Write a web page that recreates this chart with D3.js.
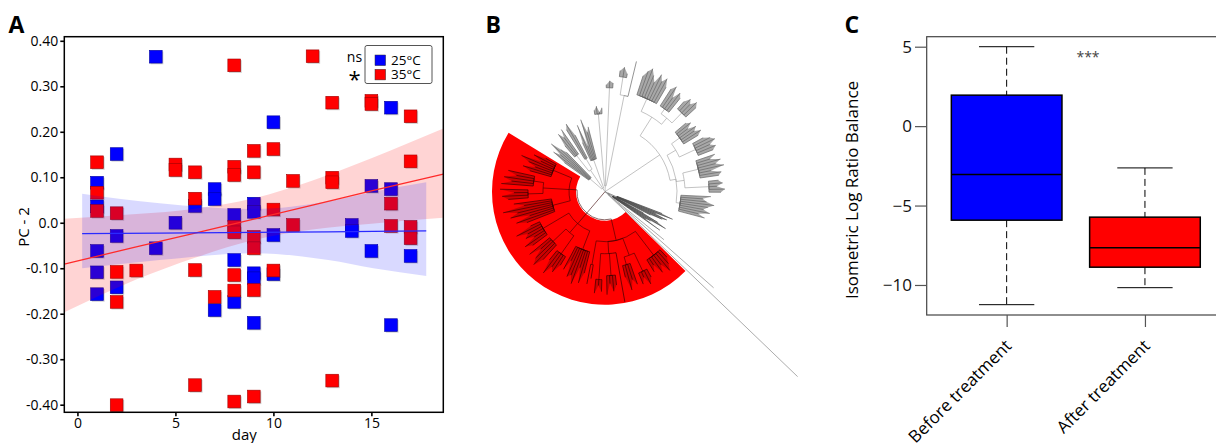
<!DOCTYPE html>
<html lang="en">
<head>
<meta charset="UTF-8">
<title>PC-2 by day, clade tree, balance boxplot</title>
<script src="https://cdn.jsdelivr.net/npm/d3@7"></script>
<style>
    body { margin: 0; background: #fff; }
    text { font-family: 'Open Sans', sans-serif; fill: #000; }
    .panel-label { font-weight: 700; font-size: 23px; }
</style>
</head>
<body>
<svg id="fig" width="1216" height="443"></svg>
<script>
// ---------- panel A data: PC-2 scores per day ----------
const days25 = [1, 1, 1, 1, 1, 2, 2, 2, 4, 4, 5, 6, 7, 7, 7, 8, 8, 8, 9, 9, 9, 9, 9, 10, 10, 10, 14, 14, 15, 15, 16, 16, 16, 17];
const pc25 = [0.088, 0.036, -0.062, -0.109, -0.157, 0.151, -0.029, -0.142, 0.365, -0.056, 0.000, 0.037, 0.074, 0.052, -0.192,
    0.017, -0.082, -0.174, 0.042, 0.024, -0.111, -0.122, -0.220, 0.221, -0.027, -0.113, -0.005, -0.018, 0.081, -0.062,
    0.253, 0.074, -0.225, -0.073];
const days35 = [1, 1, 1, 2, 2, 2, 2, 3, 5, 5, 6, 6, 6, 6, 7, 8, 8, 8, 8, 8, 8, 8, 8, 9, 9, 9, 9, 9, 9, 10, 10, 10,
    11, 11, 12, 13, 13, 13, 13, 15, 15, 16, 16, 17, 17, 17, 17];
const pc35 = [0.133, 0.066, 0.026, 0.021, -0.108, -0.174, -0.401, -0.105, 0.128, 0.116, 0.111, 0.053, -0.104, -0.357, -0.163,
    0.346, 0.123, 0.105, -0.009, -0.021, -0.115, -0.149, -0.393, 0.158, 0.111, -0.031, -0.056, -0.148, -0.382,
    0.162, 0.029, -0.105, 0.092, -0.005, 0.366, 0.264, 0.099, 0.089, -0.347, 0.268, 0.261, 0.042, -0.007,
    0.234, 0.135, -0.009, -0.034];

// linear fits with confidence bands
const fitDays35 = [-0.67, 3, 6, 9, 12, 15, 18.67];
const fit35 = [-0.091, -0.053, -0.023, 0.008, 0.039, 0.070, 0.107];
const lo35 = [-0.197, -0.125, -0.077, -0.038, -0.015, -0.002, 0.011];
const hi35 = [0.009, 0.019, 0.031, 0.054, 0.093, 0.142, 0.207];
const fitDays25 = [0.24, 4.2, 9, 12.8, 15.1, 17.8];
const fit25 = [-0.024, -0.023, -0.021, -0.020, -0.019, -0.018];
const lo25 = [-0.100, -0.082, -0.067, -0.082, -0.100, -0.117];
const hi25 = [0.064, 0.043, 0.030, 0.047, 0.068, 0.089];

const yTicksA = [-0.4, -0.3, -0.2, -0.1, 0, 0.1, 0.2, 0.3, 0.4];
const yTickLabelsA = ["-0.40", "-0.30", "-0.20", "-0.10", "0.0", "0.10", "0.20", "0.30", "0.40"];
const xTicksA = [0, 5, 10, 15];
const groups = ["25°C", "35°C"];
const groupSig = ["ns", "*"];
const groupColors = ["#0000ff", "#ff0000"];

// ---------- panel B data: tree as [branch length, ...children], leaves are lengths ----------
const redClade = [28,
    [22, [30, 10, 16, 22, 12, 19, 8, 14], [18, [20, 9, 15, 6, 12], [8, 22, 16, 26, 12]],
         [12, 50, [22, 10, 16, 8, 19], [26, 12, 6, 14]], [24, 14, 20]],
    [14, [20, 22, 33, 18, 36, 28, 31, 15, 26], [12, [22, 10, 20, 16, 26, 12], [18, 20, 30, 24, 14, 26]],
         [30, 18, 25, 12, 20, 16, 27, 10]],
    [8, [18, 30, 40, 25, 44, 36, 50, 28, 38], [26, [15, 20, 26, 14, 28], [10, 32, 22, 30, 18, 27]],
         [20, 22, 30, 18, 26, 35, 15, 24, 12]]];
const upperLeft = [4, [16, 30, 45, 38, 52, 41, 35], [22, [20, 15, 28, 22, 30], [12, 35, 40, 26]],
    [30, 20, 38, 15, 42, 28, 33]];
const topClade = [6, [72, 4, 8, 2, 6], [98, 3, 7, 5], [92, [18, 6, 10, 4], 36]];
const rightClade = [66,
    [22, [14, 20, 26, 30, 24, 18, 28, 22, 27, 19], [8, [6, 20, 25, 14, 22, 18], [14, 10, 16, 12, 18, 14]]],
    [6, [10, [10, 14, 18, 12, 20, 16, 22, 17], [18, 12, 18, 22, 15, 20, 16]],
        [8, [16, 20, 14, 24, 18, 26, 12, 22, 19], [24, 10, 14, 8, 16, 12]],
        [4, 30, 22, 26, 34, 28, 24, 31, 20, 27]]];
const lowerRight = [3, [10, 48, 60, 42, 55, 50, 38], [6, 35, 52, 62, 45, 40, 58]];
const outliers = [4, 72, 141, 263];
// angular sector (degrees, clockwise from 12 o'clock) given to each top-level clade
const cladeSectors = [[135, 301], [304, 347], [351, 375], [377, 466], [470, 486], [488, 495]];

// ---------- panel C data: boxplot stats ----------
const boxCats = ["Before treatment", "After treatment"];
const whiskLow = [-11.24, -10.17];
const q1 = [-5.92, -8.88];
const medians = [-3.04, -7.65];
const q3 = [1.95, -5.73];
const whiskHigh = [5.0, -2.63];
const boxColors = ["#0000ff", "#ff0000"];
const yTicksC = [5, 0, -5, -10];

const svg = d3.select("#fig");

// ================= panel A =================
const xA = d3.scaleLinear().domain([-0.67, 18.67]).range([64.3, 443.3]);
const yA = d3.scaleLinear().domain([-0.4167, 0.409]).range([412.3, 36.7]);
const gA = svg.append("g");

gA.append("clipPath").attr("id", "clipA").append("rect")
    .attr("x", 64.3).attr("y", 36.7).attr("width", 379).attr("height", 375.6);

const pts25 = days25.map((d, i) => ({day: d, v: pc25[i], g: 0}));
const pts35 = days35.map((d, i) => ({day: d, v: pc35[i], g: 1}));
const allPts = pts25.concat(pts35);
const sq = 12.7;

gA.selectAll("rect.shadow").data(allPts).join("rect").attr("class", "shadow")
    .attr("x", d => xA(d.day) - sq / 2 + 1.2).attr("y", d => yA(d.v) - sq / 2 + 1.2)
    .attr("width", sq).attr("height", sq)
    .style("fill", "#888").style("opacity", 0.4);
gA.selectAll("rect.pt").data(allPts).join("rect").attr("class", "pt")
    .attr("x", d => xA(d.day) - sq / 2).attr("y", d => yA(d.v) - sq / 2)
    .attr("width", sq).attr("height", sq)
    .style("fill", d => groupColors[d.g])
    .style("stroke", d => d.g ? "#a00000" : "#0000a0").style("stroke-width", 0.6);

// bands and fit lines on top of points
const bands = [
    {days: fitDays35, fit: fit35, lo: lo35, hi: hi35, fill: "rgba(255,0,0,0.17)", line: "#ff2a2a"},
    {days: fitDays25, fit: fit25, lo: lo25, hi: hi25, fill: "rgba(0,0,255,0.15)", line: "#2a2aff"}
];
const area = d3.area().curve(d3.curveMonotoneX)
    .x(d => xA(d[0])).y0(d => yA(d[1])).y1(d => yA(d[2]));
const fitLine = d3.line().x(d => xA(d[0])).y(d => yA(d[1]));
const bandG = gA.append("g").attr("clip-path", "url(#clipA)");
bands.forEach(b => {
    bandG.append("path").attr("d", area(b.days.map((d, i) => [d, b.lo[i], b.hi[i]])))
        .style("fill", b.fill);
});
bands.forEach(b => {
    bandG.append("path").attr("d", fitLine(b.days.map((d, i) => [d, b.fit[i]])))
        .style("fill", "none").style("stroke", b.line).style("stroke-width", 1.3);
});

gA.append("rect").attr("x", 64.3).attr("y", 36.7).attr("width", 379).attr("height", 375.6)
    .style("fill", "none").style("stroke", "#000").style("stroke-width", 1.5);

const axA_y = gA.append("g").attr("transform", "translate(64.3,0)")
    .call(d3.axisLeft(yA).tickValues(yTicksA).tickFormat((d, i) => yTickLabelsA[i]).tickSize(4).tickPadding(2));
const axA_x = gA.append("g").attr("transform", "translate(0,412.3)")
    .call(d3.axisBottom(xA).tickValues(xTicksA).tickSize(4).tickPadding(1.5));
[axA_y, axA_x].forEach(ax => {
    ax.select(".domain").remove();
    ax.selectAll(".tick line").style("stroke", "#000").style("stroke-width", 1.6);
    ax.selectAll(".tick text").style("font-size", "14px").style("font-family", "'Open Sans', sans-serif").style("fill", "#000");
});

gA.append("text").attr("transform", "translate(29,227) rotate(-90)")
    .attr("text-anchor", "middle").style("font-size", "15px").text("PC - 2");
gA.append("text").attr("x", 244.3).attr("y", 440)
    .attr("text-anchor", "middle").style("font-size", "15px").text("day");

// legend
const legA = gA.append("g");
legA.append("rect").attr("x", 365).attr("y", 45.5).attr("width", 67).attr("height", 38).attr("rx", 2)
    .style("fill", "#fff").style("stroke", "#555").style("stroke-width", 1);
const legRow = d3.scalePoint().domain(groups).range([60.3, 74.6]);
legA.selectAll("rect.key").data(groups).join("rect").attr("class", "key")
    .attr("x", 375).attr("y", d => legRow(d) - 5.3).attr("width", 10.6).attr("height", 10.6)
    .style("fill", (d, i) => groupColors[i]).style("stroke", "#333").style("stroke-width", 0.5);
legA.selectAll("text.lab").data(groups).join("text").attr("class", "lab")
    .attr("x", 391).attr("y", d => legRow(d) + 4.8).style("font-size", "13.5px").text(d => d);
legA.append("text").attr("x", 354.5).attr("y", legRow(groups[0]) + 1.5).attr("text-anchor", "middle")
    .style("font-size", "14px").text(groupSig[0]);
legA.append("text").attr("x", 354.5).attr("y", legRow(groups[1]) + 12).attr("text-anchor", "middle")
    .style("font-size", "22px").text(groupSig[1]);

svg.append("text").attr("class", "panel-label").attr("x", 8.5).attr("y", 33.3).text("A");

// ================= panel B =================
const cx = 605, cy = 191.7;
const rB = d3.scaleLinear().domain([0, 100]).range([0, 100]);
const clades = [redClade, upperLeft, topClade, rightClade, lowerRight, outliers];
const treeRoot = d3.hierarchy([0, ...clades], d => Array.isArray(d) ? d.slice(1) : null);
treeRoot.eachBefore(d => {
    d.len = Array.isArray(d.data) ? d.data[0] : d.data;
    d.dist = (d.parent ? d.parent.dist : 0) + d.len;
});
const sep = (a, b) => a.parent === b.parent ? 1 : 1.6;
treeRoot.children.forEach((c, i) => {
    const [a0, a1] = cladeSectors[i];
    d3.cluster().size([a1 - a0, 1]).separation(sep)(c);
    c.each(d => d.deg = a0 + d.x);
});
treeRoot.deg = d3.mean(treeRoot.children, d => d.deg);
const ang = d => d.deg * Math.PI / 180;

const redNode = treeRoot.children[0];
redNode.each(d => d.tone = "red");
treeRoot.children[4].each(d => d.tone = "dark");
treeRoot.children[5].each(d => d.tone = "long");

const gB = svg.append("g").attr("transform", `translate(${cx},${cy})`);
const redLeaves = redNode.leaves();
const wedge = d3.arc()
    .innerRadius(rB(redNode.dist) + 1)
    .outerRadius(rB(d3.max(redLeaves, d => d.dist)) + 1)
    .startAngle(d3.min(redLeaves, ang) - 2 * Math.PI / 180)
    .endAngle(d3.max(redLeaves, ang) + 2 * Math.PI / 180);
gB.append("path").attr("d", wedge()).style("fill", "#ff0000");

// filled silhouettes of terminal leaf bundles
const bundles = treeRoot.descendants()
    .filter(d => d.tone !== "long" && d.children && d.children.length >= 3 && d.children.every(c => !c.children));
const fan = d3.lineRadial().angle(d => d[0]).radius(d => d[1]);
gB.selectAll("path.fan").data(bundles).join("path").attr("class", "fan")
    .attr("d", d => {
        const kids = d.children;
        return fan([[ang(kids[0]), rB(d.dist)], ...kids.map(c => [ang(c), rB(c.dist)]),
            [ang(kids[kids.length - 1]), rB(d.dist)]]) + "Z";
    })
    .style("fill", d => d.tone === "red" ? "#5a0000" : d.tone === "dark" ? "#333" : "#7a7a7a")
    .style("opacity", d => d.tone === "red" ? 0.32 : d.tone === "dark" ? 0.5 : 0.65);

function elbow(d) {
    const p = d.parent, pa = ang(p), da = ang(d), pr = rB(p.dist), dr = rB(d.dist);
    const path = d3.path();
    path.moveTo(pr * Math.sin(pa), -pr * Math.cos(pa));
    if (pr > 0) path.arc(0, 0, pr, pa - Math.PI / 2, da - Math.PI / 2, da < pa);
    path.lineTo(dr * Math.sin(da), -dr * Math.cos(da));
    return path.toString();
}
gB.selectAll("path.link").data(treeRoot.descendants().slice(1)).join("path").attr("class", "link")
    .attr("d", elbow)
    .style("fill", "none")
    .style("stroke", d => d.tone === "red" ? "#3a0000" : d.tone === "dark" ? "#444"
        : d.tone === "long" ? "#888" : d.children ? "#9a9a9a" : "#666")
    .style("stroke-width", d => d.children ? 0.6 : 0.7);

svg.append("text").attr("class", "panel-label").attr("x", 485.5).attr("y", 33.3).text("B");

// ================= panel C =================
const yC = d3.scaleLinear().domain([-11.89, 5.63]).range([315, 36.7]);
const xC = d3.scalePoint().domain(boxCats).range([937.5, 1214.1]).padding(0.5);
const stepC = xC.step();
const gC = svg.append("g");
const boxes = boxCats.map((c, i) => ({c, lo: whiskLow[i], q1: q1[i], med: medians[i], q3: q3[i], hi: whiskHigh[i], col: boxColors[i]}));

const bx = gC.selectAll("g.box").data(boxes).join("g").attr("class", "box");
bx.append("line").attr("x1", d => xC(d.c)).attr("x2", d => xC(d.c))
    .attr("y1", d => yC(d.hi)).attr("y2", d => yC(d.q3))
    .style("stroke", "#000").style("stroke-dasharray", "7,4").style("stroke-width", 1);
bx.append("line").attr("x1", d => xC(d.c)).attr("x2", d => xC(d.c))
    .attr("y1", d => yC(d.q1)).attr("y2", d => yC(d.lo))
    .style("stroke", "#000").style("stroke-dasharray", "7,4").style("stroke-width", 1);
["hi", "lo"].forEach(k => {
    bx.append("line").attr("x1", d => xC(d.c) - stepC * 0.2).attr("x2", d => xC(d.c) + stepC * 0.2)
        .attr("y1", d => yC(d[k])).attr("y2", d => yC(d[k]))
        .style("stroke", "#000").style("stroke-width", 1);
});
bx.append("rect").attr("x", d => xC(d.c) - stepC * 0.4).attr("width", stepC * 0.8)
    .attr("y", d => yC(d.q3)).attr("height", d => yC(d.q1) - yC(d.q3))
    .style("fill", d => d.col).style("stroke", "#000").style("stroke-width", 1.5);
bx.append("line").attr("x1", d => xC(d.c) - stepC * 0.4).attr("x2", d => xC(d.c) + stepC * 0.4)
    .attr("y1", d => yC(d.med)).attr("y2", d => yC(d.med))
    .style("stroke", "#000").style("stroke-width", 1.5);

gC.append("rect").attr("x", 926.7).attr("y", 36.7).attr("width", 320).attr("height", 278.3)
    .style("fill", "none").style("stroke", "#444").style("stroke-width", 1.2);

const axC_y = gC.append("g").attr("transform", "translate(926.7,0)")
    .call(d3.axisLeft(yC).tickValues(yTicksC).tickFormat(d3.format("d")).tickSize(11.7).tickPadding(3));
const axC_x = gC.append("g").attr("transform", "translate(0,315)")
    .call(d3.axisBottom(xC).tickSize(12).tickFormat(""));
[axC_y, axC_x].forEach(ax => {
    ax.select(".domain").remove();
    ax.selectAll(".tick line").style("stroke", "#555").style("stroke-width", 1.2);
    ax.selectAll(".tick text").style("font-size", "17px").style("font-family", "'Open Sans', sans-serif").style("fill", "#111");
});
gC.selectAll("text.xl").data(boxCats).join("text").attr("class", "xl")
    .attr("transform", d => `translate(${xC(d) + 6},347) rotate(-45)`)
    .attr("text-anchor", "end").style("font-size", "17px").text(d => d);
gC.append("text").attr("transform", "translate(858,190) rotate(-90)")
    .attr("text-anchor", "middle").style("font-size", "17px").text("Isometric Log Ratio Balance");
gC.append("text").attr("x", 1088).attr("y", 62).attr("text-anchor", "middle")
    .style("font-size", "14px").style("fill", "#444").text("***");

svg.append("text").attr("class", "panel-label").attr("x", 844.5).attr("y", 33.3).text("C");
</script>
</body>
</html>
